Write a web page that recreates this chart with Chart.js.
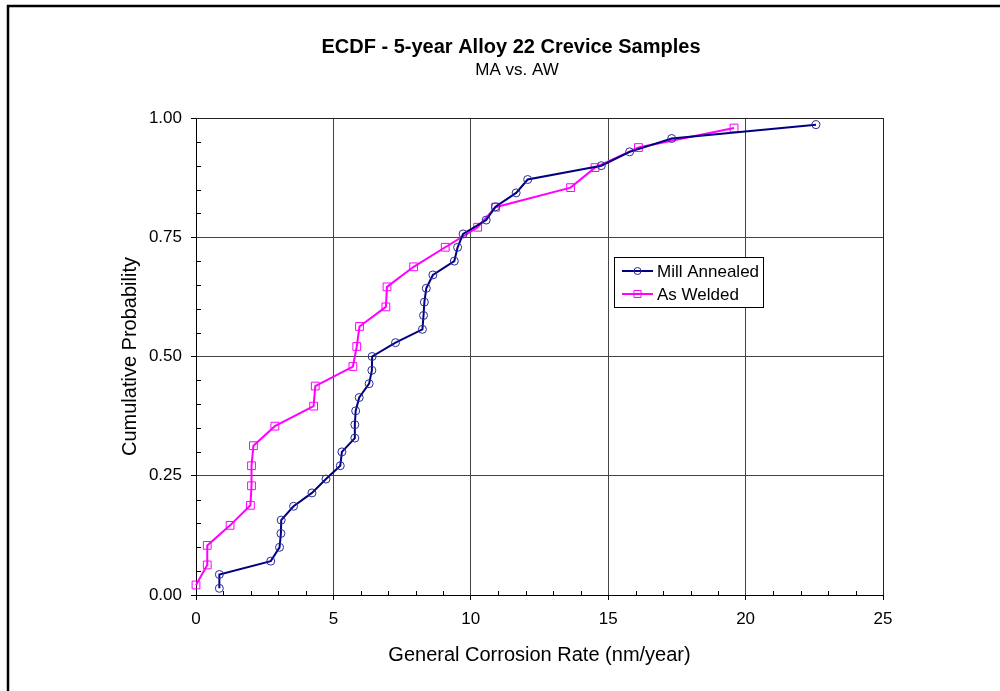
<!DOCTYPE html>
<html>
<head>
<meta charset="utf-8">
<title>ECDF - 5-year Alloy 22 Crevice Samples</title>
<script src="https://cdn.jsdelivr.net/npm/chart.js@4/dist/chart.umd.min.js"></script>
<style>
  html, body { margin: 0; padding: 0; background: #ffffff; }
  canvas { display: block; }
</style>
</head>
<body>
<canvas id="ecdf" width="1000" height="691"></canvas>
<script>
// Titles
const chartTitle = 'ECDF - 5-year Alloy 22 Crevice Samples';
const chartSubtitle = 'MA vs. AW';
const xAxisTitle = 'General Corrosion Rate (nm/year)';
const yAxisTitle = 'Cumulative Probability';

// Series labels
const seriesLabels = ['Mill Annealed', 'As Welded'];

// Mill Annealed: corrosion rate (nm/year) and cumulative probability
const millAnnealedRate = [
  0.85, 0.85, 2.72, 3.04, 3.09, 3.10, 3.55, 4.22, 4.73, 5.25,
  5.31, 5.78, 5.78, 5.81, 5.94, 6.30, 6.40, 6.41, 7.26, 8.24,
  8.28, 8.31, 8.38, 8.62, 9.40, 9.52, 9.72, 10.56, 10.90, 11.65,
  12.07, 14.75, 15.78, 17.31, 22.56
];
const millAnnealedProb = [
  0.014, 0.043, 0.071, 0.100, 0.129, 0.157, 0.186, 0.214, 0.243, 0.271,
  0.300, 0.329, 0.357, 0.386, 0.414, 0.443, 0.471, 0.500, 0.529, 0.557,
  0.586, 0.614, 0.643, 0.671, 0.700, 0.729, 0.757, 0.786, 0.814, 0.843,
  0.871, 0.900, 0.929, 0.957, 0.986
];

// As Welded: corrosion rate (nm/year) and cumulative probability
const asWeldedRate = [
  0.00, 0.41, 0.41, 1.24, 1.98, 2.02, 2.02, 2.09, 2.87, 4.28,
  4.34, 5.71, 5.85, 5.95, 6.91, 6.95, 7.92, 9.07, 10.25, 10.90,
  13.63, 14.52, 16.10, 19.58
];
const asWeldedProb = [
  0.021, 0.063, 0.104, 0.146, 0.188, 0.229, 0.271, 0.313, 0.354, 0.396,
  0.438, 0.479, 0.521, 0.563, 0.604, 0.646, 0.688, 0.729, 0.771, 0.813,
  0.854, 0.896, 0.938, 0.979
];

// Axis ranges and tick steps
const xRange = [0, 25];
const xMajorStep = 5;
const xMinorStep = 1;
const yRange = [0, 1];
const yMajorStep = 0.25;
const yMinorStep = 0.05;

const FONT = "'Liberation Sans', Arial, sans-serif";
Chart.defaults.font.family = FONT;
Chart.defaults.font.size = 17;
Chart.defaults.color = '#000000';

const toPoints = (xs, ys) => xs.map((x, i) => ({ x: x, y: ys[i] }));

// White page with the heavy frame on the left and top edges
const pageFrame = {
  id: 'pageFrame',
  beforeDraw(chart) {
    const { ctx, width, height } = chart;
    ctx.save();
    ctx.fillStyle = '#ffffff';
    ctx.fillRect(0, 0, width, height);
    ctx.strokeStyle = '#000000';
    ctx.lineWidth = 2.5;
    ctx.beginPath();
    ctx.moveTo(8, height);
    ctx.lineTo(8, 6);
    ctx.lineTo(width, 6);
    ctx.stroke();
    ctx.restore();
  }
};

// Plot-area outline plus inner minor tick marks
const plotFrame = {
  id: 'plotFrame',
  beforeDatasetsDraw(chart) {
    const { ctx, chartArea: a, scales } = chart;
    ctx.save();
    ctx.strokeStyle = '#222222';
    ctx.lineWidth = 1;
    ctx.beginPath();
    ctx.moveTo(a.left, a.top + 0.5);
    ctx.lineTo(a.right + 0.5, a.top + 0.5);
    ctx.lineTo(a.right + 0.5, a.bottom);
    ctx.stroke();

    ctx.strokeStyle = '#000000';
    ctx.beginPath();
    const nx = Math.round((xRange[1] - xRange[0]) / xMinorStep);
    for (let i = 1; i < nx; i++) {
      const v = xRange[0] + i * xMinorStep;
      if (Math.abs(v / xMajorStep - Math.round(v / xMajorStep)) < 1e-6) continue;
      const px = Math.round(scales.x.getPixelForValue(v)) + 0.5;
      ctx.moveTo(px, a.bottom);
      ctx.lineTo(px, a.bottom - 4);
    }
    const ny = Math.round((yRange[1] - yRange[0]) / yMinorStep);
    for (let i = 1; i < ny; i++) {
      const v = yRange[0] + i * yMinorStep;
      if (Math.abs(v / yMajorStep - Math.round(v / yMajorStep)) < 1e-6) continue;
      const py = Math.round(scales.y.getPixelForValue(v)) + 0.5;
      ctx.moveTo(a.left, py);
      ctx.lineTo(a.left + 5, py);
    }
    ctx.stroke();
    ctx.restore();
  }
};

// Centered two-line heading
const heading = {
  id: 'heading',
  afterDraw(chart) {
    const { ctx } = chart;
    ctx.save();
    ctx.fillStyle = '#000000';
    ctx.textAlign = 'center';
    ctx.textBaseline = 'alphabetic';
    ctx.font = 'bold 20px ' + FONT;
    ctx.fillText(chartTitle, 511, 53);
    ctx.font = '17px ' + FONT;
    ctx.fillText(chartSubtitle, 517, 75);
    ctx.restore();
  }
};

// Boxed legend inside the plot area
const boxLegend = {
  id: 'boxLegend',
  afterDraw(chart) {
    const { ctx } = chart;
    const box = { x: 614.5, y: 257.5, w: 149, h: 50 };
    ctx.save();
    ctx.fillStyle = '#ffffff';
    ctx.fillRect(box.x, box.y, box.w, box.h);
    ctx.strokeStyle = '#000000';
    ctx.lineWidth = 1;
    ctx.strokeRect(box.x, box.y, box.w, box.h);
    ctx.font = '17px ' + FONT;
    ctx.textBaseline = 'middle';
    ctx.textAlign = 'left';
    chart.data.datasets.forEach((ds, i) => {
      const cy = 271 + i * 23;
      ctx.strokeStyle = ds.borderColor;
      ctx.lineWidth = 2;
      ctx.beginPath();
      ctx.moveTo(622, cy);
      ctx.lineTo(653, cy);
      ctx.stroke();
      ctx.strokeStyle = ds.pointBorderColor;
      ctx.fillStyle = 'rgba(0,0,0,0)';
      ctx.lineWidth = 1;
      Chart.helpers.drawPoint(ctx, {
        pointStyle: ds.pointStyle,
        radius: ds.pointRadius - 0.5,
        borderWidth: 1
      }, 637.5, cy);
      ctx.fillStyle = '#000000';
      ctx.fillText(ds.label, 657, cy + 1);
    });
    ctx.restore();
  }
};

new Chart(document.getElementById('ecdf'), {
  type: 'scatter',
  data: {
    datasets: [
      {
        label: seriesLabels[0],
        data: toPoints(millAnnealedRate, millAnnealedProb),
        showLine: true,
        borderColor: '#000080',
        backgroundColor: 'rgba(0,0,0,0)',
        borderWidth: 2,
        pointStyle: 'circle',
        pointRadius: 4,
        pointBorderWidth: 1,
        pointBorderColor: '#2a2a9a',
        pointBackgroundColor: 'rgba(0,0,0,0)',
        clip: false
      },
      {
        label: seriesLabels[1],
        data: toPoints(asWeldedRate, asWeldedProb),
        showLine: true,
        borderColor: '#ff00ff',
        backgroundColor: 'rgba(0,0,0,0)',
        borderWidth: 2,
        pointStyle: 'rect',
        pointRadius: 5.5,
        pointBorderWidth: 1,
        pointBorderColor: '#ff00ff',
        pointBackgroundColor: 'rgba(0,0,0,0)',
        clip: false
      }
    ]
  },
  options: {
    responsive: false,
    animation: false,
    devicePixelRatio: 1,
    layout: { padding: { left: 0, top: 118, right: 117, bottom: 0 } },
    plugins: {
      legend: { display: false },
      title: { display: false },
      tooltip: { enabled: false }
    },
    scales: {
      x: {
        type: 'linear',
        min: xRange[0],
        max: xRange[1],
        afterFit(scale) { scale.height = 96; },
        ticks: { stepSize: xMajorStep, padding: 9, color: '#000000', font: { size: 17 } },
        grid: { color: '#444444', lineWidth: 1, drawTicks: true, tickLength: 5, tickColor: '#000000' },
        border: { display: true, color: '#000000', width: 1 },
        title: { display: true, text: xAxisTitle, padding: { top: 0, bottom: 24 }, font: { size: 20 } }
      },
      y: {
        type: 'linear',
        min: yRange[0],
        max: yRange[1],
        afterFit(scale) { scale.width = 196; },
        ticks: {
          stepSize: yMajorStep,
          padding: 9,
          color: '#000000',
          font: { size: 17 },
          callback: (v) => Number(v).toFixed(2)
        },
        grid: { color: '#444444', lineWidth: 1, drawTicks: true, tickLength: 5, tickColor: '#000000' },
        border: { display: true, color: '#000000', width: 1 },
        title: { display: true, text: yAxisTitle, padding: { top: 118, bottom: 0 }, font: { size: 20 } }
      }
    }
  },
  plugins: [pageFrame, plotFrame, heading, boxLegend]
});
</script>
</body>
</html>
